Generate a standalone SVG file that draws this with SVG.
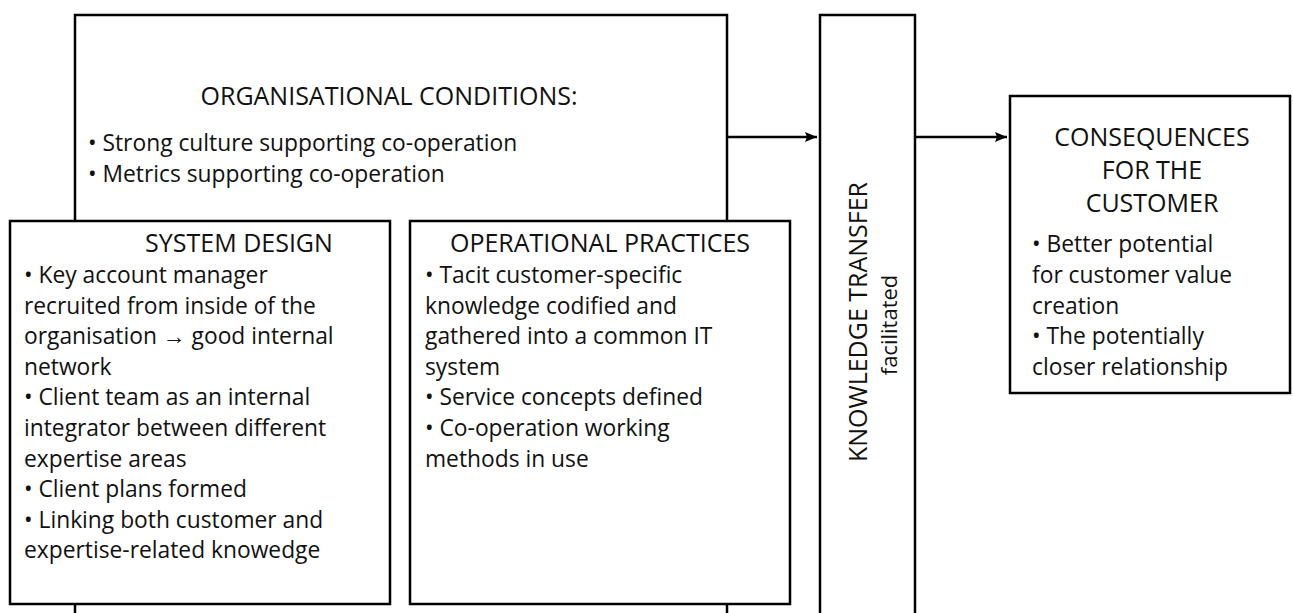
<svg xmlns="http://www.w3.org/2000/svg" width="1293" height="613" viewBox="0 0 1293 613">
<defs>
<style>
.box{fill:#fff;stroke:#000;stroke-width:2.5}
.frame{fill:none;stroke:#000;stroke-width:2.5}
.h{font-family:"Open Sans","Liberation Sans",sans-serif;font-size:25px;fill:#111}
.t{font-family:"Open Sans","Liberation Sans",sans-serif;font-size:22.8px;fill:#111}
.s{font-family:"Open Sans","Liberation Sans",sans-serif;font-size:22px;fill:#111}
.c{text-anchor:middle}
.conn{stroke:#000;stroke-width:2.5;fill:none}
</style>
<marker id="arr" viewBox="0 0 12 10" refX="12" refY="5" markerWidth="12" markerHeight="10" markerUnits="userSpaceOnUse" orient="auto">
<path d="M0,0 L12,5 L0,10 L2,5 z" fill="#000"/>
</marker>
</defs>
<rect width="1293" height="613" fill="#fff"/>
<g id="organisational-conditions">
<rect class="frame" x="75" y="15" width="652" height="640"/>
<text class="h c" x="389" y="105">ORGANISATIONAL CONDITIONS:</text>
<text class="t" x="88" y="151">• Strong culture supporting co-operation</text>
<text class="t" x="88" y="182">• Metrics supporting co-operation</text>
</g>
<g id="system-design">
<rect class="box" x="10" y="221" width="380" height="383"/>
<text class="h c" x="239" y="252">SYSTEM DESIGN</text>
<text class="t" x="24" y="283">• Key account manager</text>
<text class="t" x="24" y="314">recruited from inside of the</text>
<text class="t" x="24" y="344">organisation → good internal</text>
<text class="t" x="24" y="375">network</text>
<text class="t" x="24" y="405">• Client team as an internal</text>
<text class="t" x="24" y="436">integrator between different</text>
<text class="t" x="24" y="467">expertise areas</text>
<text class="t" x="24" y="497">• Client plans formed</text>
<text class="t" x="24" y="528">• Linking both customer and</text>
<text class="t" x="24" y="558">expertise-related knowedge</text>
</g>
<g id="operational-practices">
<rect class="box" x="410" y="221" width="380" height="383"/>
<text class="h c" x="600" y="252">OPERATIONAL PRACTICES</text>
<text class="t" x="425" y="283">• Tacit customer-specific</text>
<text class="t" x="425" y="314">knowledge codified and</text>
<text class="t" x="425" y="344">gathered into a common IT</text>
<text class="t" x="425" y="375">system</text>
<text class="t" x="425" y="405">• Service concepts defined</text>
<text class="t" x="425" y="436">• Co-operation working</text>
<text class="t" x="425" y="467">methods in use</text>
</g>
<g id="knowledge-transfer">
<rect class="frame" x="820" y="15" width="95" height="640"/>
<text class="h c" transform="translate(867,322) rotate(-90)">KNOWLEDGE TRANSFER</text>
<text class="s c" transform="translate(897,325) rotate(-90)">facilitated</text>
</g>
<g id="consequences">
<rect class="box" x="1010" y="96" width="280" height="297"/>
<text class="h c" x="1152" y="146">CONSEQUENCES</text>
<text class="h c" x="1152" y="179">FOR THE</text>
<text class="h c" x="1152" y="212">CUSTOMER</text>
<text class="t" x="1032" y="252">• Better potential</text>
<text class="t" x="1032" y="283">for customer value</text>
<text class="t" x="1032" y="314">creation</text>
<text class="t" x="1032" y="344">• The potentially</text>
<text class="t" x="1032" y="375">closer relationship</text>
</g>
<g id="connectors">
<line class="conn" x1="727" y1="137" x2="817" y2="137" marker-end="url(#arr)"/>
<line class="conn" x1="915" y1="137" x2="1007" y2="137" marker-end="url(#arr)"/>
</g>
</svg>
